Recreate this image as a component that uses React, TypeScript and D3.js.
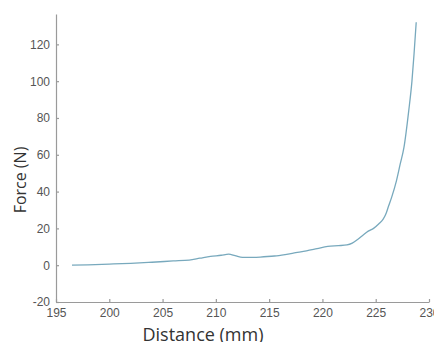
import React, { useRef, useEffect } from "react";
import { select, scaleLinear, axisBottom, axisLeft, line, curveMonotoneX } from "d3";

// distance (mm)
const distance = [
  196.5, 198, 200, 202, 204, 206, 207.5, 208.5, 209.5, 210.5, 211.2, 211.8,
  212.5, 213.5, 214.5, 215.5, 216.5, 217.5, 218.5, 219.5, 220.5, 221.5, 222.3,
  222.8, 223.3, 223.8, 224.3, 224.8, 225.3, 225.7, 226.0, 226.2, 226.5, 226.95,
  227.3, 227.65, 228.1, 228.4, 228.6, 228.8,
];
// force (N)
const force = [
  0, 0.2, 0.6, 1.0, 1.6, 2.3, 2.8, 3.8, 4.8, 5.4, 6.0, 5.2,
  4.2, 4.2, 4.6, 5.0, 5.8, 6.8, 7.8, 9.0, 10.2, 10.6, 11.0,
  12.0, 14, 16.3, 18.5, 20, 22.5, 25, 28.5, 32, 37, 46,
  55, 64, 84, 100, 115, 132,
];
const xTicks = [195, 200, 205, 210, 215, 220, 225, 230];
const yTicks = [-20, 0, 20, 40, 60, 80, 100, 120];

const W = 434;
const H = 342;
const left = 56;
const right = 429;
const top = 14;
const bottom = 302;

function App() {
  const svgRef = useRef<SVGSVGElement>(null);

  const xscale = scaleLinear().domain([195, 230]).range([left, right]);
  const yscale = scaleLinear().domain([-20, 136.5]).range([bottom, top]);

  useEffect(() => {
    const svg = select(svgRef.current);

    const xaxis = axisBottom(xscale)
      .tickValues(xTicks)
      .tickFormat((d) => String(d))
      .tickSizeInner(-3)
      .tickSizeOuter(0)
      .tickPadding(6);
    svg.select(".x-axis").attr("transform", `translate(0,${bottom})`).call(xaxis as any);

    const yaxis = axisLeft(yscale)
      .tickValues(yTicks)
      .tickFormat((d) => String(d))
      .tickSizeInner(-3)
      .tickSizeOuter(0)
      .tickPadding(6);
    svg.select(".y-axis").attr("transform", `translate(${left},0)`).call(yaxis as any);

    svg.selectAll(".x-axis path, .y-axis path, .x-axis line, .y-axis line")
      .attr("stroke", "#9a9a9a")
      .attr("stroke-width", 1.2);
    svg.selectAll(".x-axis text, .y-axis text")
      .attr("fill", "#555")
      .attr("font-size", 12)
      .attr("font-family", "Liberation Sans, Arial, sans-serif");
  }, []);

  const pts = distance.map((d, i) => [d, force[i]] as [number, number]);
  const myLine = line<[number, number]>()
    .x((d) => xscale(d[0]))
    .y((d) => yscale(d[1]))
    .curve(curveMonotoneX);

  return (
    <svg
      ref={svgRef}
      width={W}
      height={H}
      style={{ position: "absolute", left: 0, top: 0, background: "#fff" }}
    >
      <path d={myLine(pts) || ""} fill="none" stroke="#78a9bd" strokeWidth={1.3} />
      <g className="x-axis"></g>
      <g className="y-axis"></g>
      <text
        x={203}
        y={341}
        textAnchor="middle"
        fontSize={18}
        fontFamily="Open Sans, sans-serif"
        fill="#333"
      >
        Distance (mm)
      </text>
      <text
        transform={`translate(26,180) rotate(-90)`}
        textAnchor="middle"
        fontSize={16}
        fontFamily="Open Sans, sans-serif"
        fill="#333"
      >
        Force (N)
      </text>
    </svg>
  );
}

export default App;
